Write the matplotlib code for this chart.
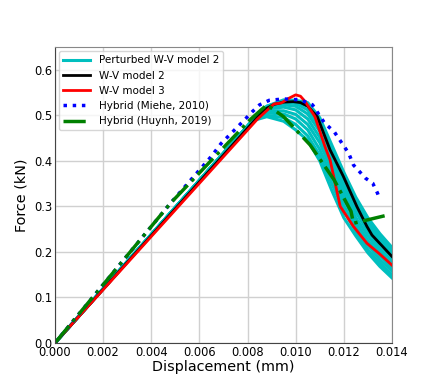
import numpy as np
import matplotlib.pyplot as plt

# Perturbed W-V model 2 curves (shared displacement grid)
x_pert = [0.0, 0.0082, 0.0088, 0.0095, 0.0100, 0.0105, 0.0110, 0.0115, 0.0120, 0.0125, 0.0130, 0.0135, 0.0140]
pert_curves = [
    [0.0, 0.488, 0.497, 0.487, 0.468, 0.445, 0.400, 0.335, 0.275, 0.235, 0.198, 0.168, 0.143],
    [0.0, 0.488, 0.500, 0.495, 0.480, 0.455, 0.412, 0.350, 0.290, 0.245, 0.205, 0.175, 0.150],
    [0.0, 0.488, 0.505, 0.503, 0.492, 0.468, 0.425, 0.365, 0.302, 0.255, 0.215, 0.183, 0.158],
    [0.0, 0.488, 0.510, 0.510, 0.502, 0.480, 0.440, 0.378, 0.315, 0.265, 0.225, 0.192, 0.165],
    [0.0, 0.488, 0.514, 0.518, 0.512, 0.492, 0.452, 0.390, 0.328, 0.275, 0.235, 0.200, 0.172],
    [0.0, 0.488, 0.516, 0.523, 0.520, 0.503, 0.465, 0.402, 0.340, 0.287, 0.245, 0.208, 0.180],
    [0.0, 0.488, 0.518, 0.528, 0.526, 0.512, 0.475, 0.413, 0.352, 0.298, 0.255, 0.218, 0.188],
    [0.0, 0.488, 0.520, 0.531, 0.530, 0.520, 0.485, 0.423, 0.363, 0.308, 0.263, 0.226, 0.196],
    [0.0, 0.488, 0.520, 0.534, 0.533, 0.528, 0.495, 0.435, 0.375, 0.320, 0.275, 0.240, 0.210],
    [0.0, 0.488, 0.518, 0.529, 0.531, 0.525, 0.490, 0.428, 0.368, 0.313, 0.268, 0.233, 0.203],
]

# W-V model 2
x_wv2 = [0.0, 0.0087, 0.0091, 0.0095, 0.0099, 0.0102, 0.0105, 0.0109, 0.01143, 0.01198, 0.01254,
         0.01296, 0.01317, 0.0140]
y_wv2 = [0.0, 0.513, 0.524, 0.529, 0.530, 0.528, 0.520, 0.497, 0.424, 0.366, 0.300,
         0.256, 0.237, 0.190]

# W-V model 3
x_wv3 = [0.0, 0.0084, 0.0091, 0.0094, 0.0097, 0.0100, 0.0102, 0.0104, 0.0108, 0.01122, 0.01143, 0.01185,
         0.0124, 0.01296, 0.0135, 0.0140]
y_wv3 = [0.0, 0.491, 0.525, 0.527, 0.537, 0.545, 0.542, 0.530, 0.497, 0.431, 0.402, 0.300,
         0.256, 0.219, 0.195, 0.171]

# Hybrid (Miehe, 2010)
x_miehe = [0.0, 0.0048, 0.0065, 0.0069, 0.0078, 0.0082, 0.0085, 0.0089, 0.0095, 0.0102, 0.0107, 0.0112,
           0.0116, 0.0122, 0.0124, 0.0129, 0.0132, 0.0134, 0.0135]
y_miehe = [0.0, 0.307, 0.410, 0.438, 0.486, 0.508, 0.523, 0.533, 0.536, 0.534, 0.523, 0.483,
           0.464, 0.417, 0.391, 0.362, 0.351, 0.329, 0.314]

# Hybrid (Huynh, 2019)
x_huynh = [0.0, 0.0048, 0.0081, 0.0088, 0.0091, 0.0095, 0.0106, 0.0116, 0.0123, 0.0124, 0.0139]
y_huynh = [0.0, 0.307, 0.490, 0.523, 0.512, 0.497, 0.435, 0.358, 0.289, 0.263, 0.282]

fig = plt.figure(figsize=(4.36, 3.92), dpi=100)
ax = fig.add_axes([0.126, 0.125, 0.773, 0.755])

for i, yc in enumerate(pert_curves):
    ax.plot(x_pert, yc, color='c', lw=2.2, label='Perturbed W-V model 2' if i == 0 else None)
ax.plot(x_wv2, y_wv2, color='k', lw=2, label='W-V model 2')
ax.plot(x_wv3, y_wv3, color='r', lw=2, label='W-V model 3')
ax.plot(x_miehe, y_miehe, color='b', ls=':', lw=2.5, label='Hybrid (Miehe, 2010)')
ax.plot(x_huynh, y_huynh, color='g', ls='-.', lw=2.5, label='Hybrid (Huynh, 2019)')

ax.set_xlim(0, 0.014)
ax.set_ylim(0, 0.65)
ax.set_xticks(np.arange(0, 0.0141, 0.002))
ax.set_xticklabels(['%.3f' % v for v in np.arange(0, 0.0141, 0.002)])
ax.set_yticks(np.arange(0, 0.61, 0.1))
ax.set_yticklabels(['%.1f' % v for v in np.arange(0, 0.61, 0.1)])
ax.tick_params(length=0, labelsize=8.3, pad=2)
ax.grid(True, color='#d0d0d0', lw=1)
ax.set_axisbelow(True)
for s in ['top', 'right']:
    ax.spines[s].set_color('#888888')
for s in ['left', 'bottom']:
    ax.spines[s].set_color('#444444')

ax.set_xlabel('Displacement (mm)', fontsize=10.4, labelpad=1)
ax.set_ylabel('Force (kN)', fontsize=10.4, labelpad=4)
ax.legend(loc='upper left', fontsize=7.5, handlelength=2.6, borderaxespad=0.4)

fig.savefig('out.png', dpi=100)
